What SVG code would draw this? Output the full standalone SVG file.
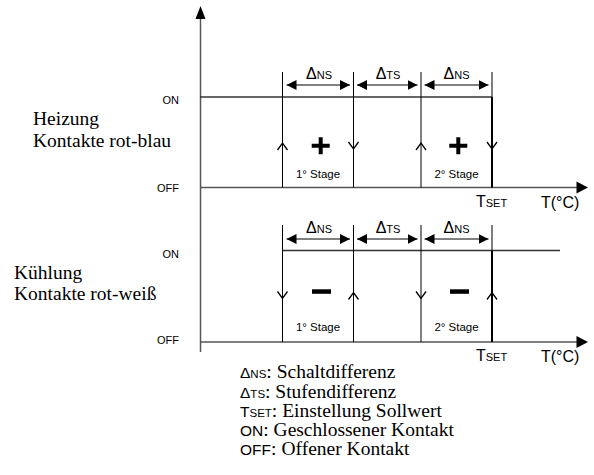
<svg xmlns="http://www.w3.org/2000/svg" width="594" height="475" viewBox="0 0 594 475">
<defs>
<marker id="dh" viewBox="0 0 10 10" refX="10" refY="5" markerWidth="10" markerHeight="10" markerUnits="userSpaceOnUse" orient="auto-start-reverse">
<path d="M0,0 L10,5 L0,10 Z" fill="#000"/>
</marker>
</defs>
<style>
.axis{stroke:#555;stroke-width:1.5;fill:none}
.on{stroke:#333;stroke-width:1.5;fill:none}
.v{stroke:#000;stroke-width:1;fill:none}
.vt{stroke:#000;stroke-width:2;fill:none}
.chev{stroke:#000;stroke-width:1.3;fill:none}
.dim{stroke:#000;stroke-width:1;fill:none;marker-start:url(#dh);marker-end:url(#dh)}
.s{font-family:"Liberation Sans",Arial,sans-serif;fill:#000}
.sr{font-family:"Liberation Serif","Times New Roman",serif;fill:#000;font-size:19.5px}
.lbl{font-size:11px}
.st{font-size:11.5px}
.big{font-size:16px}
.sm{font-size:11px}
.lg{font-size:15.5px}
.lgs{font-size:11.5px}
</style>
<rect width="594" height="475" fill="#fff"/>

<g id="axes">
<line class="axis" x1="200.5" y1="18" x2="200.5" y2="352"/>
<polygon points="200.5,6 195.5,19 205.5,19" fill="#000"/>
<line class="axis" x1="200" y1="187.5" x2="577" y2="187.5"/>
<polygon points="588,187.5 576.5,181.5 576.5,193.5" fill="#000"/>
<line class="axis" x1="200" y1="342" x2="577" y2="342"/>
<polygon points="588,342 576.5,336 576.5,348" fill="#000"/>
<text class="s lbl" x="179" y="104" text-anchor="end">ON</text>
<text class="s lbl" x="179" y="192" text-anchor="end">OFF</text>
<text class="s lbl" x="179" y="258" text-anchor="end">ON</text>
<text class="s lbl" x="179" y="343.5" text-anchor="end">OFF</text>
<text class="s big" x="476" y="207">T<tspan class="sm">SET</tspan></text>
<text class="s big" x="541" y="207.5">T(°C)</text>
<text class="s big" x="476" y="361">T<tspan class="sm">SET</tspan></text>
<text class="s big" x="541" y="361.5">T(°C)</text>
</g>

<g id="heizung">
<text class="sr" x="33" y="125">Heizung</text>
<text class="sr" x="33" y="146.5">Kontakte rot-blau</text>
<line class="on" x1="200" y1="97" x2="492" y2="97"/>
<line class="v" x1="282.5" y1="72" x2="282.5" y2="187.5"/>
<line class="v" x1="353.5" y1="72" x2="353.5" y2="187.5"/>
<line class="v" x1="421" y1="72" x2="421" y2="187.5"/>
<line class="v" x1="492" y1="72" x2="492" y2="97"/>
<line class="vt" x1="492" y1="97" x2="492" y2="187.5"/>
<polyline class="chev" points="277.5,150 282.5,143 287.5,150"/>
<polyline class="chev" points="348.5,142 353.5,149 358.5,142"/>
<polyline class="chev" points="416,150 421,143 426,150"/>
<polyline class="chev" points="487,142 492,149 497,142"/>
<path d="M311.7,143.7h18v4h-18z M318.7,137.2h4v17h-4z" fill="#000"/>
<path d="M449.3,143.7h18v4h-18z M456.3,137.2h4v17h-4z" fill="#000"/>
<text class="s st" x="318" y="178" text-anchor="middle">1° Stage</text>
<text class="s st" x="456.5" y="178" text-anchor="middle">2° Stage</text>
<text class="s big" x="319" y="79" text-anchor="middle">Δ<tspan class="sm">NS</tspan></text>
<text class="s big" x="388" y="79" text-anchor="middle">Δ<tspan class="sm">TS</tspan></text>
<text class="s big" x="456.5" y="79" text-anchor="middle">Δ<tspan class="sm">NS</tspan></text>
</g>

<g id="kuehlung">
<text class="sr" x="14" y="278.5">Kühlung</text>
<text class="sr" x="14" y="299.5">Kontakte rot-weiß</text>
<line class="on" x1="282" y1="250.5" x2="560" y2="250.5"/>
<line class="v" x1="282.5" y1="225" x2="282.5" y2="342"/>
<line class="v" x1="353.5" y1="225" x2="353.5" y2="342"/>
<line class="v" x1="421" y1="225" x2="421" y2="342"/>
<line class="v" x1="492" y1="225" x2="492" y2="250.5"/>
<line class="vt" x1="492" y1="250.5" x2="492" y2="342"/>
<polyline class="chev" points="277.5,291.5 282.5,298.5 287.5,291.5"/>
<polyline class="chev" points="348.5,299.5 353.5,292.5 358.5,299.5"/>
<polyline class="chev" points="416,291.5 421,298.5 426,291.5"/>
<polyline class="chev" points="487,299.5 492,292.5 497,299.5"/>
<rect x="312" y="289.3" width="19" height="4.5" fill="#000"/>
<rect x="450" y="289.3" width="19" height="4.5" fill="#000"/>
<text class="s st" x="318" y="331" text-anchor="middle">1° Stage</text>
<text class="s st" x="456.5" y="331" text-anchor="middle">2° Stage</text>
<text class="s big" x="319" y="232.5" text-anchor="middle">Δ<tspan class="sm">NS</tspan></text>
<text class="s big" x="388" y="232.5" text-anchor="middle">Δ<tspan class="sm">TS</tspan></text>
<text class="s big" x="456.5" y="232.5" text-anchor="middle">Δ<tspan class="sm">NS</tspan></text>
</g>

<g id="connectors">
<line class="dim" x1="286.5" y1="85" x2="350" y2="85"/>
<line class="dim" x1="357" y1="85" x2="417.5" y2="85"/>
<line class="dim" x1="424.5" y1="85" x2="488.5" y2="85"/>
<line class="dim" x1="286.5" y1="239" x2="350" y2="239"/>
<line class="dim" x1="357" y1="239" x2="417.5" y2="239"/>
<line class="dim" x1="424.5" y1="239" x2="488.5" y2="239"/>
</g>

<g id="legend">
<text x="240" y="378"><tspan class="s lg">Δ</tspan><tspan class="s lgs">NS</tspan><tspan class="sr">: Schaltdifferenz</tspan></text>
<text x="240" y="397.5"><tspan class="s lg">Δ</tspan><tspan class="s lgs">TS</tspan><tspan class="sr">: Stufendifferenz</tspan></text>
<text x="240" y="416.5"><tspan class="s lg">T</tspan><tspan class="s lgs">SET</tspan><tspan class="sr">: Einstellung Sollwert</tspan></text>
<text x="240" y="436"><tspan class="s lg">ON</tspan><tspan class="sr">: Geschlossener Kontakt</tspan></text>
<text x="240" y="455"><tspan class="s lg">OFF</tspan><tspan class="sr">:</tspan><tspan class="sr" dx="5">Offener Kontakt</tspan></text>
</g>
</svg>
